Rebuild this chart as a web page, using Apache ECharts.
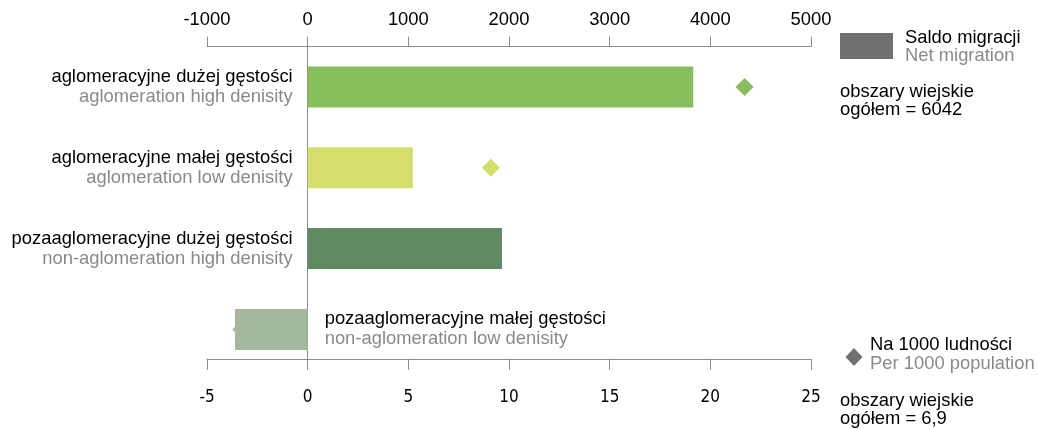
<!DOCTYPE html>
<html>
<head>
<meta charset="utf-8">
<script src="https://cdn.jsdelivr.net/npm/echarts@6/dist/echarts.min.js"></script>
<style>
html,body{margin:0;padding:0;background:#fff;}
#c{width:1038px;height:429px;}
</style>
</head>
<body>
<div id="c"></div>
<script>
const categoriesPL = ['aglomeracyjne dużej gęstości','aglomeracyjne małej gęstości','pozaaglomeracyjne dużej gęstości','pozaaglomeracyjne małej gęstości'];
const categoriesEN = ['aglomeration high denisity','aglomeration low denisity','non-aglomeration high denisity','non-aglomeration low denisity'];
const netMigration = [3830, 1045, 1930, -722];
const per1000 = [21.7, 9.1, 6.5, -3.3];
const barColors = ['#86bf5b', '#d5de6a', '#5f8a62', '#a3b89c'];
const topTicks = [-1000, 0, 1000, 2000, 3000, 4000, 5000];
const bottomTicks = [-5, 0, 5, 10, 15, 20, 25];

const chart = echarts.init(document.getElementById('c'));
const axisColor = '#8c8c8c';
const font = 'Liberation Sans, Arial, sans-serif';
const narrow = '"Liberation Sans Narrow", "Arial Narrow", "DejaVu Sans Condensed", "Liberation Sans", sans-serif';
const fs = 18.4;

const barData = netMigration.map((v, i) => ({
  value: v,
  itemStyle: { color: barColors[i] },
  label: {
    show: true,
    position: v >= 0 ? 'left' : 'right',
    distance: v >= 0 ? 15 : 17,
    formatter: '{a|' + categoriesPL[i] + '}\n{b|' + categoriesEN[i] + '}',
    rich: {
      a: { color: '#000', fontSize: fs, lineHeight: 20, fontFamily: font },
      b: { color: '#8a8a8a', fontSize: fs, lineHeight: 20, fontFamily: font }
    }
  }
}));
const scatterData = per1000.map((v, i) => ({ value: [v, i], itemStyle: { color: barColors[i], opacity: 1 } }));

chart.setOption({
  animation: false,
  grid: { left: 207, right: 227, top: 46.6, bottom: 59.2, containLabel: false },
  xAxis: [
    {
      type: 'value', position: 'top', min: topTicks[0], max: topTicks[topTicks.length - 1], interval: 1000,
      axisLine: { show: true, onZero: false, lineStyle: { color: axisColor, width: 1 } },
      axisTick: { show: true, length: 10, lineStyle: { color: axisColor } },
      axisLabel: { color: '#000', fontSize: fs, fontFamily: font, margin: 18, formatter: v => String(v) },
      splitLine: { show: false }
    },
    {
      type: 'value', position: 'bottom', offset: -11, min: bottomTicks[0], max: bottomTicks[bottomTicks.length - 1], interval: 5,
      axisLine: { show: true, onZero: false, lineStyle: { color: axisColor, width: 1 } },
      axisTick: { show: true, length: 11, lineStyle: { color: axisColor } },
      axisLabel: { color: '#000', fontSize: 17, fontFamily: narrow, margin: 30, formatter: v => String(v) },
      splitLine: { show: false }
    }
  ],
  yAxis: {
    type: 'category', inverse: true, data: categoriesPL,
    axisLine: { show: true, onZero: true, onZeroAxisIndex: 0, lineStyle: { color: axisColor, width: 1 } },
    axisTick: { show: false }, axisLabel: { show: false }, splitLine: { show: false }
  },
  series: [
    { type: 'scatter', xAxisIndex: 1, symbol: 'diamond', symbolSize: 18, data: scatterData, z: 2 },
    { type: 'bar', xAxisIndex: 0, barWidth: 41, data: barData, z: 3 }
  ],
  graphic: [
    { type: 'rect', shape: { x: 840, y: 33, width: 53, height: 26 }, style: { fill: '#707070' } },
    { type: 'text', x: 905, y: 38, style: { text: 'Saldo migracji', fill: '#000', font: fs + 'px ' + font, textVerticalAlign: 'middle' } },
    { type: 'text', x: 905, y: 56, style: { text: 'Net migration', fill: '#8a8a8a', font: fs + 'px ' + font, textVerticalAlign: 'middle' } },
    { type: 'text', x: 840, y: 92, style: { text: 'obszary wiejskie', fill: '#000', font: fs + 'px ' + font, textVerticalAlign: 'middle' } },
    { type: 'text', x: 840, y: 110, style: { text: 'ogółem = 6042', fill: '#000', font: fs + 'px ' + font, textVerticalAlign: 'middle' } },
    { type: 'polygon', shape: { points: [[854, 348], [862.5, 357], [854, 366], [845.5, 357]] }, style: { fill: '#707070' } },
    { type: 'text', x: 870, y: 345, style: { text: 'Na 1000 ludności', fill: '#000', font: fs + 'px ' + font, textVerticalAlign: 'middle' } },
    { type: 'text', x: 870, y: 364, style: { text: 'Per 1000 population', fill: '#8a8a8a', font: fs + 'px ' + font, textVerticalAlign: 'middle' } },
    { type: 'text', x: 840, y: 401, style: { text: 'obszary wiejskie', fill: '#000', font: fs + 'px ' + font, textVerticalAlign: 'middle' } },
    { type: 'text', x: 840, y: 419, style: { text: 'ogółem = 6,9', fill: '#000', font: fs + 'px ' + font, textVerticalAlign: 'middle' } }
  ]
});
</script>
</body>
</html>
